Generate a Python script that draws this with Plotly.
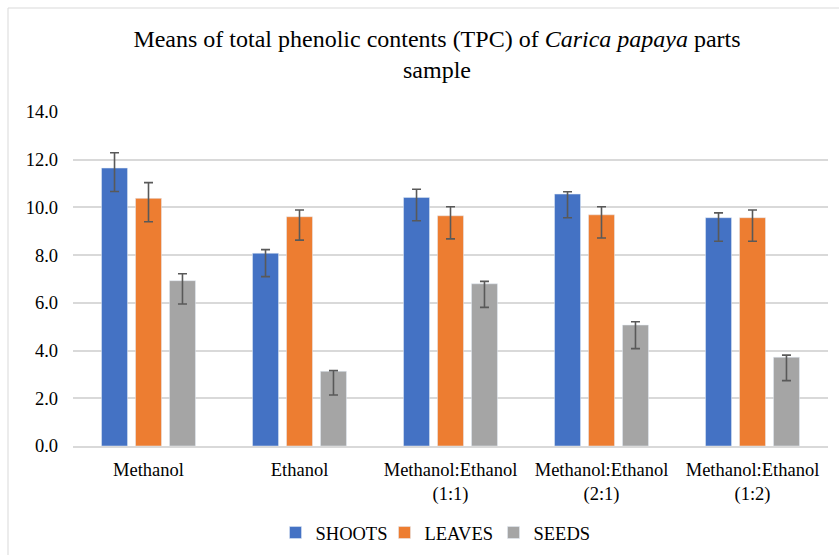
import plotly.graph_objects as go

categories = ["Methanol", "Ethanol", "Methanol:Ethanol<br>(1:1)",
              "Methanol:Ethanol<br>(2:1)", "Methanol:Ethanol<br>(1:2)"]
series_names = ["SHOOTS", "LEAVES", "SEEDS"]
shoots = [11.65, 8.08, 10.42, 10.56, 9.57]
leaves = [10.38, 9.61, 9.65, 9.69, 9.57]
seeds = [6.93, 3.13, 6.80, 5.07, 3.72]
shoots_err_plus = [0.64, 0.15, 0.34, 0.10, 0.20]
shoots_err_minus = [0.98, 0.98, 0.98, 0.99, 0.99]
leaves_err_plus = [0.66, 0.28, 0.38, 0.34, 0.32]
leaves_err_minus = [0.98, 0.98, 0.97, 0.97, 0.99]
seeds_err_plus = [0.29, 0.03, 0.10, 0.14, 0.09]
seeds_err_minus = [0.98, 0.99, 0.99, 0.99, 0.98]
y_ticks = [0, 2, 4, 6, 8, 10, 12, 14]
colors = ["#4472C4", "#ED7D31", "#A5A5A5"]

values = [shoots, leaves, seeds]
plus = [shoots_err_plus, leaves_err_plus, seeds_err_plus]
minus = [shoots_err_minus, leaves_err_minus, seeds_err_minus]

FONT = "Liberation Serif, Times New Roman, Times, serif"
W, H = 839, 555
L, R, T, B = 73, 11, 112, 109
pw, ph = W - L - R, H - T - B

fig = go.Figure()
for name, v, p, m, c in zip(series_names, values, plus, minus, colors):
    fig.add_trace(go.Bar(
        name=name, x=categories, y=v, marker_color=c,
        error_y=dict(type="data", symmetric=False, array=p, arrayminus=m,
                     color="#595959", thickness=1.6, width=4.5),
    ))

def px_x(px):
    return (px - L) / pw

def px_y(py):
    return (H - B - py) / ph

fig.add_shape(type="rect", xref="paper", yref="paper",
              x0=px_x(8), x1=px_x(850), y0=px_y(565), y1=px_y(8),
              line=dict(color="#D9D9D9", width=1), fillcolor="rgba(0,0,0,0)",
              layer="below")

fig.update_layout(
    width=W, height=H,
    margin=dict(l=L, r=R, t=T, b=B, autoexpand=False),
    paper_bgcolor="white", plot_bgcolor="white",
    font=dict(family=FONT, size=18, color="#000000"),
    title=dict(
        text="Means of total phenolic contents (TPC) of <i>Carica papaya</i> parts<br>sample",
        font=dict(family=FONT, size=24, color="#000000"),
        x=437 / W, xanchor="center", xref="container",
        y=1 - 47 / H, yanchor="top", yref="container",
    ),
    barmode="group", bargap=0.325, bargroupgap=0.235,
    showlegend=True,
    legend=dict(orientation="h", x=px_x(439), xanchor="center",
                y=px_y(533), yanchor="middle",
                font=dict(family=FONT, size=18.5), itemwidth=30,
                entrywidth=64, entrywidthmode="pixels",
                traceorder="normal"),
    xaxis=dict(showgrid=False, showline=True, linecolor="#D9D9D9", linewidth=1.5,
               ticks="", ticklabelstandoff=6, tickfont=dict(family=FONT, size=18.5)),
    yaxis=dict(range=[0, 14], tickvals=y_ticks,
               ticktext=[f"{t:.1f}" for t in y_ticks],
               showgrid=True, gridcolor="#D9D9D9", gridwidth=1.5,
               zeroline=False, showline=False, ticks="",
               ticklabelstandoff=14, tickfont=dict(family=FONT, size=18.5)),
)

fig.write_html("out.html", config={"displayModeBar": False},
               post_script="document.body.style.margin='0';")
